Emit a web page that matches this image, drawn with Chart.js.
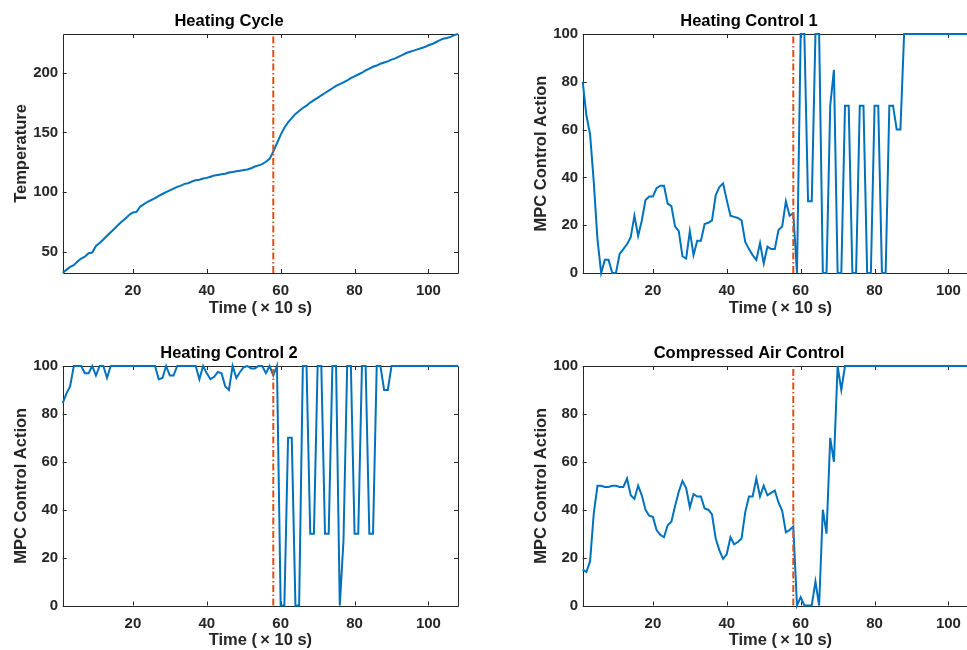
<!DOCTYPE html>
<html>
<head>
<meta charset="utf-8">
<script src="https://cdn.jsdelivr.net/npm/chart.js@4.4.1/dist/chart.umd.min.js"></script>
<style>
html, body { margin: 0; padding: 0; background: #fff; overflow: hidden; width: 967px; height: 650px; }
.panel { position: absolute; width: 470px; height: 330px; }
</style>
</head>
<body>
<div class="panel" style="left:0;top:0"><canvas id="c1" width="470" height="330"></canvas></div>
<div class="panel" style="left:520px;top:0"><canvas id="c2" width="470" height="330"></canvas></div>
<div class="panel" style="left:0;top:330px"><canvas id="c3" width="470" height="330"></canvas></div>
<div class="panel" style="left:520px;top:330px"><canvas id="c4" width="470" height="330"></canvas></div>
<script>
// time steps (x 10 s)
const steps = Array.from({ length: 108 }, (_, i) => i + 1);
const switchStep = 58;

const xTicks = [20, 40, 60, 80, 100];
const tempTicks = [50, 100, 150, 200];
const actionTicks = [0, 20, 40, 60, 80, 100];

const temperature = [
  32.5, 35, 37.5, 39, 42, 44.5, 46, 49, 49.5, 55,
  57.5, 60.5, 63.5, 66.5, 69.5, 72.5, 75.5, 78, 81, 83,
  83.5, 88, 90, 92, 93.5, 95, 97, 98.5, 100, 101.5,
  103, 104.5, 105.5, 107, 107.5, 109, 110, 110.5, 111.5, 112,
  113, 114, 114.5, 115, 115.5, 116.5, 117, 117.5, 118, 118.5,
  119, 120, 121.5, 122.5, 123.5, 125.5, 128, 134, 141, 148,
  154, 158.5, 162, 165.5, 168, 170.5, 172.5, 175, 177, 179,
  181, 183, 185, 187, 189, 190.5, 192, 193.5, 195.5, 197,
  198.5, 200, 202, 203.5, 205, 206, 207.5, 208.5, 209.5, 211,
  212, 213.5, 215, 216.5, 217.5, 218.5, 219.5, 220.5, 221.5, 223,
  224, 225.5, 227, 228.5, 229, 230, 231.5, 232.4
];

const heating1 = [
  80, 66, 58, 38, 14, 0, 5.5, 5.5, 0, 0,
  8, 10, 12, 15, 24, 15.5, 22, 30.5, 32, 32,
  35.5, 36.5, 36.5, 29, 28, 19.5, 17.5, 7, 6, 17.5,
  7.5, 13.5, 13.5, 20.5, 21, 22, 32.5, 36, 37.5, 30.5,
  24, 23.5, 23, 22, 13, 10, 7.5, 5.5, 12.5, 4,
  11, 10, 10, 18, 19.5, 30, 24, 25, 0, 100,
  100, 30, 30, 100, 100, 0, 0, 70, 85, 0,
  0, 70, 70, 0, 0, 70, 70, 0, 0, 70,
  70, 0, 0, 70, 70, 60, 60, 100, 100, 100,
  100, 100, 100, 100, 100, 100, 100, 100, 100, 100,
  100, 100, 100, 100, 100, 100, 100, 100
];

const heating2 = [
  84.5, 88.5, 91.5, 100, 100, 100, 97, 97, 100, 96,
  100, 100, 95, 100, 100, 100, 100, 100, 100, 100,
  100, 100, 100, 100, 100, 100, 94.5, 95, 100, 96,
  96, 100, 100, 100, 100, 100, 100, 94.5, 100, 97,
  94.5, 95.5, 97.5, 97, 91.5, 90, 100, 95, 97.5, 99.5,
  100, 99, 99, 100, 100, 97, 100, 96, 100, 0,
  0, 70, 70, 0, 0, 100, 100, 30, 30, 100,
  100, 30, 30, 100, 100, 0, 27, 100, 100, 30,
  30, 100, 100, 30, 30, 100, 100, 90, 90, 100,
  100, 100, 100, 100, 100, 100, 100, 100, 100, 100,
  100, 100, 100, 100, 100, 100, 100, 100
];

const compressedAir = [
  15, 14, 18.5, 38.5, 50, 50, 49.5, 49.5, 50, 50,
  49.5, 49.5, 53, 46, 44.5, 50, 46, 40, 37.5, 37,
  31.5, 29.5, 28.5, 33.5, 35, 41.5, 47.5, 52, 49, 41,
  46.5, 45.5, 45.5, 40.5, 40, 38, 28, 23, 19.5, 21.5,
  28.5, 25.5, 26.5, 28, 39, 45.5, 45.5, 53, 45.5, 50,
  46, 47, 48, 43, 39.5, 30.5, 31.5, 33, 0, 3.5,
  0, 0, 0, 10, 0, 40, 30, 70, 60, 100,
  90, 100, 100, 100, 100, 100, 100, 100, 100, 100,
  100, 100, 100, 100, 100, 100, 100, 100, 100, 100,
  100, 100, 100, 100, 100, 100, 100, 100, 100, 100,
  100, 100, 100, 100, 100, 100, 100, 100
];

const FONT = 'Liberation Sans, Arial, Helvetica, sans-serif';
const AXIS_COLOR = '#262626';

// matlab-style box with inward tick marks
const axisBox = {
  id: 'axisBox',
  beforeDatasetsDraw(chart) {
    const { ctx, chartArea: a, scales: { x, y } } = chart;
    const t = 4;
    ctx.save();
    ctx.strokeStyle = AXIS_COLOR;
    ctx.lineWidth = 1;
    ctx.beginPath();
    ctx.rect(Math.round(a.left) + 0.5, Math.round(a.top) + 0.5,
      Math.round(a.right - a.left), Math.round(a.bottom - a.top));
    x.ticks.forEach(tk => {
      const px = Math.round(x.getPixelForValue(tk.value)) + 0.5;
      ctx.moveTo(px, a.bottom); ctx.lineTo(px, a.bottom - t);
      ctx.moveTo(px, a.top); ctx.lineTo(px, a.top + t);
    });
    y.ticks.forEach(tk => {
      const py = Math.round(y.getPixelForValue(tk.value)) + 0.5;
      ctx.moveTo(a.left, py); ctx.lineTo(a.left + t, py);
      ctx.moveTo(a.right, py); ctx.lineTo(a.right - t, py);
    });
    ctx.stroke();
    ctx.restore();
  }
};

function makeChart(id, title, yLabel, values, yMin, yMax, yTicks, row) {
  const titleTop = row === 0 ? 12 : 14;
  const xHeight = row === 0 ? 57 : 54.5;
  const xTitleBottom = row === 0 ? 12 : 10;
  new Chart(document.getElementById(id), {
    type: 'line',
    data: {
      datasets: [
        {
          data: [{ x: switchStep, y: yMin }, { x: switchStep, y: yMax }],
          borderColor: '#D95319',
          borderWidth: 2,
          borderDash: [7, 2.5, 1.5, 2.5],
          pointRadius: 0,
          clip: false
        },
        {
          data: steps.map((s, i) => ({ x: s, y: values[i] })),
          borderColor: '#0072BD',
          borderWidth: 2,
          pointRadius: 0,
          tension: 0,
          clip: false
        }
      ]
    },
    options: {
      responsive: false,
      animation: false,
      layout: { padding: { left: 0, right: 12, top: 0, bottom: 0 } },
      plugins: {
        legend: { display: false },
        tooltip: { enabled: false },
        title: {
          display: true,
          text: title,
          color: '#000',
          font: { family: FONT, size: 16.5, weight: 'bold', lineHeight: 1.2 },
          padding: { top: titleTop, bottom: 2.2 }
        }
      },
      scales: {
        x: {
          type: 'linear',
          min: 1,
          max: 108,
          afterBuildTicks: s => { s.ticks = xTicks.map(v => ({ value: v })); },
          afterFit: s => { s.height = xHeight; },
          grid: { display: false, drawTicks: false },
          border: { display: false },
          ticks: {
            color: AXIS_COLOR,
            font: { family: FONT, size: 15, weight: 'bold' },
            padding: 9,
            maxRotation: 0,
            autoSkip: false
          },
          title: {
            display: true,
            text: 'Time (\u2009× 10 s)',
            color: AXIS_COLOR,
            font: { family: FONT, size: 16.5, weight: 'bold', lineHeight: 1.2 },
            padding: { top: 0, bottom: xTitleBottom }
          }
        },
        y: {
          min: yMin,
          max: yMax,
          afterBuildTicks: s => { s.ticks = yTicks.map(v => ({ value: v })); },
          afterFit: s => { s.width = 62.7; },
          grid: { display: false, drawTicks: false },
          border: { display: false },
          ticks: {
            color: AXIS_COLOR,
            font: { family: FONT, size: 15, weight: 'bold' },
            padding: 4.5
          },
          title: {
            display: true,
            text: yLabel,
            color: AXIS_COLOR,
            font: { family: FONT, size: 16.5, weight: 'bold', lineHeight: 1.2 },
            padding: { top: 12, bottom: 0 }
          }
        }
      }
    },
    plugins: [axisBox]
  });
}

makeChart('c1', 'Heating Cycle', 'Temperature', temperature, 32.4, 232.4, tempTicks, 0);
makeChart('c2', 'Heating Control 1', 'MPC Control Action', heating1, 0, 100, actionTicks, 0);
makeChart('c3', 'Heating Control 2', 'MPC Control Action', heating2, 0, 100, actionTicks, 1);
makeChart('c4', 'Compressed Air Control', 'MPC Control Action', compressedAir, 0, 100, actionTicks, 1);
</script>
</body>
</html>
